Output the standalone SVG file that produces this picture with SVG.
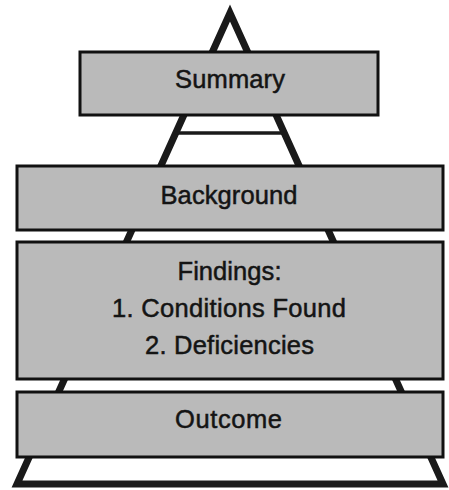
<svg xmlns="http://www.w3.org/2000/svg" width="449" height="490" viewBox="0 0 449 490">
  <style>
    .tier { fill: #bababa; stroke: #111; stroke-width: 3; }
    .label { font-family: "Liberation Sans", Arial, sans-serif; font-size: 25.5px; fill: #141414; stroke: #141414; stroke-width: 0.5; text-anchor: middle; }
    .outline { fill: none; stroke: #1a1a1a; stroke-linejoin: miter; stroke-miterlimit: 10; }
  </style>
  <rect width="449" height="490" fill="#ffffff"/>

  <!-- pyramid behind the tiers -->
  <g id="pyramid">
    <polygon class="outline" stroke-width="7" points="230,13 17,484 443,484"/>
    <line class="outline" stroke-width="3.5" x1="175" y1="133" x2="285" y2="133"/>
  </g>

  <g id="summary">
    <rect class="tier" x="80" y="52" width="298" height="63"/>
    <text class="label" x="230" y="88" textLength="110" lengthAdjust="spacing">Summary</text>
  </g>

  <g id="background">
    <rect class="tier" x="17" y="166" width="426" height="64"/>
    <text class="label" x="229" y="203.5" textLength="137" lengthAdjust="spacing">Background</text>
  </g>

  <g id="findings">
    <rect class="tier" x="17" y="242" width="426" height="137"/>
    <text class="label" x="229.5" y="280" textLength="104" lengthAdjust="spacing">Findings:</text>
    <text class="label" x="229" y="317" textLength="234" lengthAdjust="spacing">1. Conditions Found</text>
    <text class="label" x="229.5" y="354" textLength="169" lengthAdjust="spacing">2. Deficiencies</text>
  </g>

  <g id="outcome">
    <rect class="tier" x="17" y="392" width="426" height="65"/>
    <text class="label" x="228.5" y="428" textLength="107" lengthAdjust="spacing">Outcome</text>
  </g>
</svg>
